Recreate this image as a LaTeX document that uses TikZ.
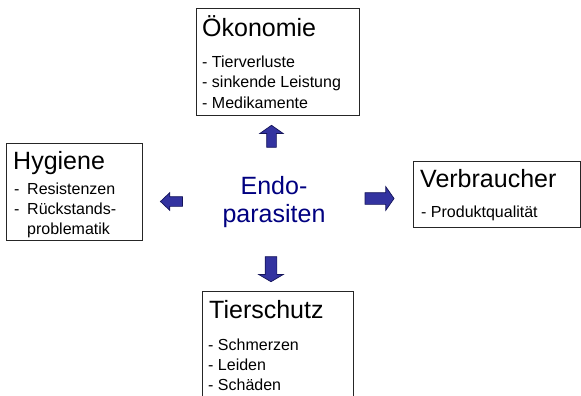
\documentclass[tikz,border=0pt]{standalone}
\usepackage{fontspec}
\setmainfont{Liberation Sans}
\usepackage{tikz}
\usetikzlibrary{shapes.arrows, positioning, calc}
\definecolor{arrowfill}{RGB}{51,51,160}
\definecolor{arrowline}{RGB}{20,20,90}
\definecolor{endonavy}{RGB}{0,0,128}
\tikzstyle{topicbox} = [rectangle, draw=black!85, line width=0.8pt, anchor=north west, inner sep=0pt]
\tikzstyle{headline} = [anchor=base west, inner sep=0pt, font=\fontsize{25}{30}\selectfont]
\tikzstyle{itemlist} = [anchor=base west, inner sep=0pt, font=\fontsize{16}{20}\selectfont]
\tikzstyle{blockarrow} = [single arrow, draw=arrowline, fill=arrowfill, line width=0.7pt, single arrow head indent=0pt]

\begin{document}
\begin{tikzpicture}[x=1pt, y=-1pt]
    \clip (0,0) rectangle (581,396);

    \node (endo) [anchor=base, inner sep=0pt, text=endonavy, font=\fontsize{25}{28.5}\selectfont] at (274,194) {\begin{tabular}[t]{@{}c@{}}Endo-\\parasiten\end{tabular}};

    \node (oeko) [topicbox, minimum width=163pt, minimum height=107pt] at (196,8) {};
    \node (oekoTitle) [headline] at ([shift={(6pt,-29pt)}]oeko.north west) {Ökonomie};
    \node (oekoList) [itemlist] at ([shift={(6pt,-60pt)}]oeko.north west) {\begin{tabular}[t]{@{}l@{}}- Tierverluste\\- sinkende Leistung\\- Medikamente\end{tabular}};

    \node (hyg) [topicbox, minimum width=136pt, minimum height=97pt] at (6,143) {};
    \node (hygTitle) [headline] at ([shift={(7pt,-26pt)}]hyg.north west) {Hygiene};
    \node (hygList) [itemlist] at ([shift={(8pt,-51pt)}]hyg.north west) {\begin{tabular}[t]{@{}l@{\hspace{7.7pt}}l@{}}-&Resistenzen\\-&Rückstands-\\&problematik\end{tabular}};

    \node (verb) [topicbox, minimum width=167pt, minimum height=66pt] at (413,161) {};
    \node (verbTitle) [headline] at ([shift={(7pt,-26pt)}]verb.north west) {Verbraucher};
    \node (verbList) [itemlist] at ([shift={(8pt,-56pt)}]verb.north west) {- Produktqualität};

    \node (tier) [topicbox, minimum width=151pt, minimum height=120pt] at (202,291) {};
    \node (tierTitle) [headline] at ([shift={(7pt,-27pt)}]tier.north west) {Tierschutz};
    \node (tierList) [itemlist] at ([shift={(6pt,-59pt)}]tier.north west) {\begin{tabular}[t]{@{}l@{}}- Schmerzen\\- Leiden\\- Schäden\end{tabular}};

    % block arrows around the centre
    \node (arrUp) [blockarrow, shape border rotate=90, inner sep=4.5pt, minimum height=22pt, minimum width=23pt, single arrow head extend=7pt, single arrow tip angle=110] at (271.5,138) {};
    \node (arrDown) [blockarrow, shape border rotate=270, inner sep=5.5pt, minimum height=25pt, minimum width=24pt, single arrow head extend=6.5pt, single arrow tip angle=119] at (271,267.5) {};
    \node (arrLeft) [blockarrow, shape border rotate=180, inner sep=4.5pt, minimum height=22pt, minimum width=17pt, single arrow head extend=4pt, single arrow tip angle=87] at (174,201.5) {};
    \node (arrRight) [blockarrow, inner sep=5.5pt, minimum height=29pt, minimum width=23pt, single arrow head extend=6pt, single arrow tip angle=110] at (377.5,198.5) {};
\end{tikzpicture}
\end{document}
